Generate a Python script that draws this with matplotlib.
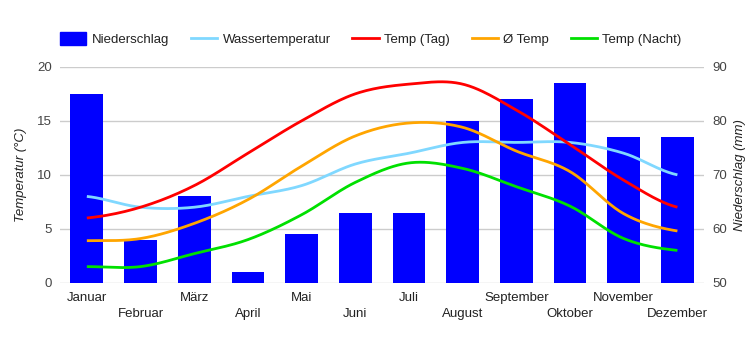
import numpy as np
import matplotlib
matplotlib.use("Agg")
import matplotlib.pyplot as plt
from matplotlib.patches import Patch
from matplotlib.lines import Line2D

plt.rcParams["font.family"] = ["Liberation Sans", "DejaVu Sans"]

months = ["Januar", "Februar", "März", "April", "Mai", "Juni", "Juli",
          "August", "September", "Oktober", "November", "Dezember"]
niederschlag = [85, 58, 66, 52, 59, 63, 63, 80, 84, 87, 77, 77]
wassertemp = [8, 7, 7, 8, 9, 11, 12, 13, 13, 13, 12, 10]
temp_tag = [6, 7, 9, 12, 15, 17.5, 18.4, 18.4, 16, 12.8, 9.5, 7]
temp_avg = [3.9, 4.1, 5.5, 7.7, 10.8, 13.6, 14.8, 14.4, 12.2, 10.3, 6.4, 4.8]
temp_nacht = [1.5, 1.5, 2.7, 4, 6.3, 9.3, 11.1, 10.6, 8.9, 7.1, 4.1, 3]


def smooth(x, y, n=24):
    # catmull-rom curve through the points, only for drawing
    x = np.asarray(x, float)
    y = np.asarray(y, float)
    m = np.zeros_like(y)
    m[1:-1] = (y[2:] - y[:-2]) / (x[2:] - x[:-2])
    m[0] = 0.5 * (y[1] - y[0]) / (x[1] - x[0])
    m[-1] = 0.5 * (y[-1] - y[-2]) / (x[-1] - x[-2])
    xs, ys = [], []
    for i in range(len(x) - 1):
        h = x[i + 1] - x[i]
        t = np.linspace(0, 1, n, endpoint=False)
        h00 = 2 * t**3 - 3 * t**2 + 1
        h10 = t**3 - 2 * t**2 + t
        h01 = -2 * t**3 + 3 * t**2
        h11 = t**3 - t**2
        xs.append(x[i] + t * h)
        ys.append(h00 * y[i] + h10 * h * m[i] + h01 * y[i + 1] + h11 * h * m[i + 1])
    xs.append([x[-1]])
    ys.append([y[-1]])
    return np.concatenate(xs), np.concatenate(ys)


fig = plt.figure(figsize=(7.5, 3.5), dpi=100)
ax2 = fig.add_axes([0.08, 0.192, 0.859, 0.617])
ax1 = ax2.twinx()
ax1.yaxis.tick_left()
ax1.yaxis.set_label_position("left")
ax2.yaxis.tick_right()
ax2.yaxis.set_label_position("right")

x = np.arange(len(months))
ax2.bar(x, niederschlag, width=0.61, color="#0000ff", zorder=2)
ax2.set_ylim(50, 90)
ax2.set_yticks([50, 60, 70, 80, 90])
ax2.grid(axis="y", color="#cccccc", linewidth=1, zorder=0)
ax2.set_axisbelow(True)

series = [
    (wassertemp, "#80d8ff"),
    (temp_tag, "#ff0000"),
    (temp_avg, "#ffa500"),
    (temp_nacht, "#00e000"),
]
for vals, col in series:
    sx, sy = smooth(x, vals)
    ax1.plot(sx, sy, color=col, linewidth=2, solid_capstyle="butt")
ax1.set_ylim(0, 20)
ax1.set_yticks([0, 5, 10, 15, 20])

ax1.set_zorder(ax2.get_zorder() + 1)
ax1.patch.set_visible(False)

# month labels in two rows: even months on major ticks, odd ones lower on minor ticks
ax2.set_xlim(-0.5, 11.5)
ax2.set_xticks(x[::2])
ax2.set_xticklabels(months[::2])
ax2.set_xticks(x[1::2], minor=True)
ax2.set_xticklabels(months[1::2], minor=True)

for ax in (ax1, ax2):
    for s in ax.spines.values():
        s.set_visible(False)
    ax.tick_params(which="both", length=0, labelsize=9.5, colors="#444444", pad=6)

ax2.tick_params(axis="x", which="major", colors="#222222", pad=6.5)
ax2.tick_params(axis="x", which="minor", colors="#222222", pad=18.5)
ax1.set_ylabel("Temperatur (°C)", style="italic", fontsize=9.5, color="#222222", labelpad=7)
ax2.set_ylabel("Niederschlag (mm)", style="italic", fontsize=9.5, color="#222222", labelpad=5)

handles = [Patch(color="#0000ff")] + [Line2D([], [], color=c, linewidth=2) for _, c in series]
labels = ["Niederschlag", "Wassertemperatur", "Temp (Tag)", "Ø Temp", "Temp (Nacht)"]
fig.legend(handles, labels, loc="center left", bbox_to_anchor=(0.08, 0.888), ncol=5,
           frameon=False, fontsize=9.5, handlelength=2.0, handleheight=1.1,
           handletextpad=0.4, columnspacing=1.65, borderaxespad=0, borderpad=0,
           labelcolor="#222222")

fig.savefig("out.png", dpi=100)
